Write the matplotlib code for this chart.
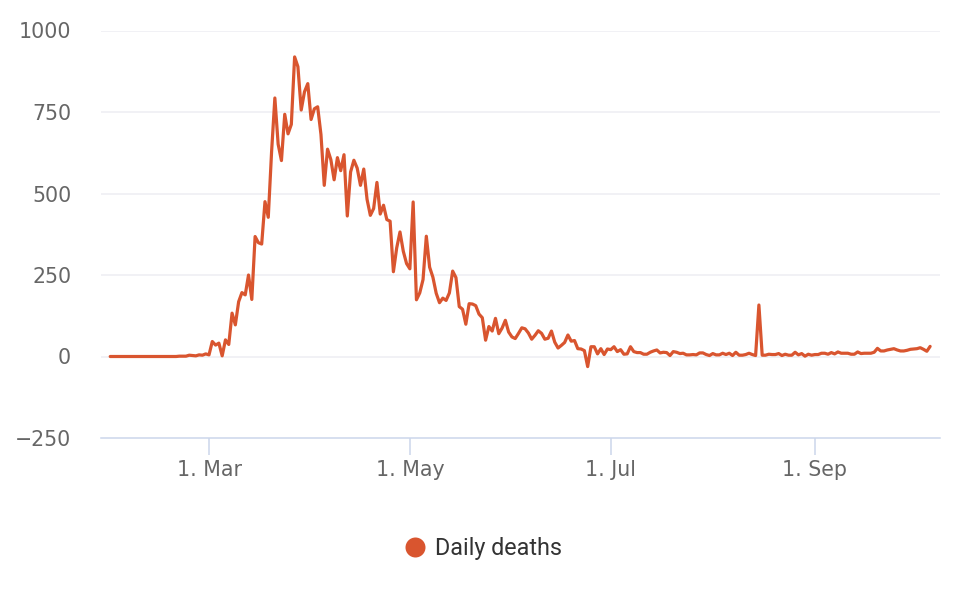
import matplotlib
matplotlib.use("Agg")
import matplotlib.pyplot as plt
import matplotlib.dates as mdates
from matplotlib.lines import Line2D
import pandas as pd
from datetime import datetime

# ---------------- data ----------------
start_date = "2020-01-31"
jan_values = [0]
feb_values = [0, 0, 0, 0, 0, 0, 0, 0, 0, 0,
              0, 0, 0, 0, 0, 0, 0, 0, 0, 0,
              1, 1, 1, 4, 3, 2, 5, 4, 8]
mar_values = [5, 46, 35, 41, 2, 51, 37, 133, 97, 168,
              196, 189, 250, 175, 368, 349, 345, 475, 427, 627,
              793, 651, 601, 743, 683, 712, 919, 889, 756, 812, 837]
apr_values = [727, 760, 766, 681, 525, 636, 604, 542, 610, 570,
              619, 431, 566, 602, 578, 525, 575, 482, 433, 454,
              534, 437, 464, 420, 415, 260, 333, 382, 323, 285]
may_values = [269, 474, 174, 195, 236, 369, 274, 243, 194, 165,
              179, 172, 195, 262, 242, 153, 145, 99, 162, 161,
              156, 130, 119, 50, 92, 78, 117, 70, 87, 111, 75]
jun_values = [60, 55, 71, 88, 85, 72, 53, 65, 79, 71,
              53, 56, 78, 44, 26, 34, 43, 66, 47, 49,
              24, 23, 18, -31, 30, 30, 8, 24, 6, 23]
jul_values = [21, 30, 15, 21, 7, 8, 30, 15, 12, 12,
              7, 7, 13, 17, 20, 11, 13, 12, 3, 15,
              13, 9, 10, 5, 5, 6, 5, 11, 11, 6, 3]
aug_values = [9, 5, 5, 10, 6, 10, 3, 13, 4, 4,
              6, 10, 6, 3, 158, 4, 4, 7, 6, 6,
              9, 3, 7, 4, 4, 13, 5, 9, 1, 7, 4]
sep_values = [6, 6, 10, 10, 7, 12, 8, 14, 10, 10,
              10, 7, 7, 14, 9, 10, 10, 10, 13, 25,
              17, 17, 20, 22, 24, 20, 17, 17, 19, 22]
oct_values = [23, 24, 27, 22, 16, 31]

series_name = "Daily deaths"
tick_dates = ["2020-03-01", "2020-05-01", "2020-07-01", "2020-09-01"]
tick_labels = ["1. Mar", "1. May", "1. Jul", "1. Sep"]
y_ticks = [-250, 0, 250, 500, 750, 1000]
y_tick_labels = ["\u2212250", "0", "250", "500", "750", "1000"]

values = (jan_values + feb_values + mar_values + apr_values + may_values +
          jun_values + jul_values + aug_values + sep_values + oct_values)
dates = pd.date_range(start_date, periods=len(values), freq="D")

# ---------------- style ----------------
LINE_COLOR = "#d9552f"
GRID_COLOR = "#eeeef2"
AXIS_COLOR = "#ccd6eb"
LABEL_COLOR = "#666666"

W, H = 974, 590
fig = plt.figure(figsize=(W / 100, H / 100), dpi=100)
left, right = 101, 940
top, bottom = 30.5, 438
ax = fig.add_axes([left / W, 1 - bottom / H, (right - left) / W, (bottom - top) / H])

ax.plot(dates, values, color=LINE_COLOR, linewidth=2.3,
        solid_joinstyle="round", solid_capstyle="round", label=series_name, zorder=3)

mar1 = mdates.date2num(datetime(2020, 3, 1))
ax.set_xlim(mar1 - 32.8, mar1 + 222.0)
ax.set_ylim(-250, 1000)

ax.set_yticks(y_ticks)
ax.set_yticklabels(y_tick_labels)
ax.set_xticks([mdates.date2num(pd.Timestamp(d)) for d in tick_dates])
ax.set_xticklabels(tick_labels)

for y in y_ticks[1:]:
    ax.axhline(y, color=GRID_COLOR, linewidth=1.1, zorder=1)

for s in ["top", "right", "left"]:
    ax.spines[s].set_visible(False)
ax.spines["bottom"].set_color(AXIS_COLOR)
ax.spines["bottom"].set_linewidth(1.1)

ax.tick_params(axis="y", length=0, pad=21.5, labelsize=14.8, labelcolor=LABEL_COLOR)
ax.tick_params(axis="x", length=12.5, width=1.1, color=AXIS_COLOR, pad=3,
               labelsize=14.8, labelcolor=LABEL_COLOR, direction="out")
for lab in ax.get_xticklabels() + ax.get_yticklabels():
    lab.set_family("DejaVu Sans")

handle = Line2D([], [], marker="o", linestyle="none", color=LINE_COLOR,
                markersize=14.4, markeredgewidth=0)
fig.legend([handle], [series_name], loc="center",
           bbox_to_anchor=(483 / W, 1 - 548.5 / H), frameon=False,
           handlelength=1.0, handletextpad=0.36, borderpad=0,
           prop={"family": "Roboto", "size": 16.8}, labelcolor="#333333")

fig.savefig("out.png", dpi=100)
